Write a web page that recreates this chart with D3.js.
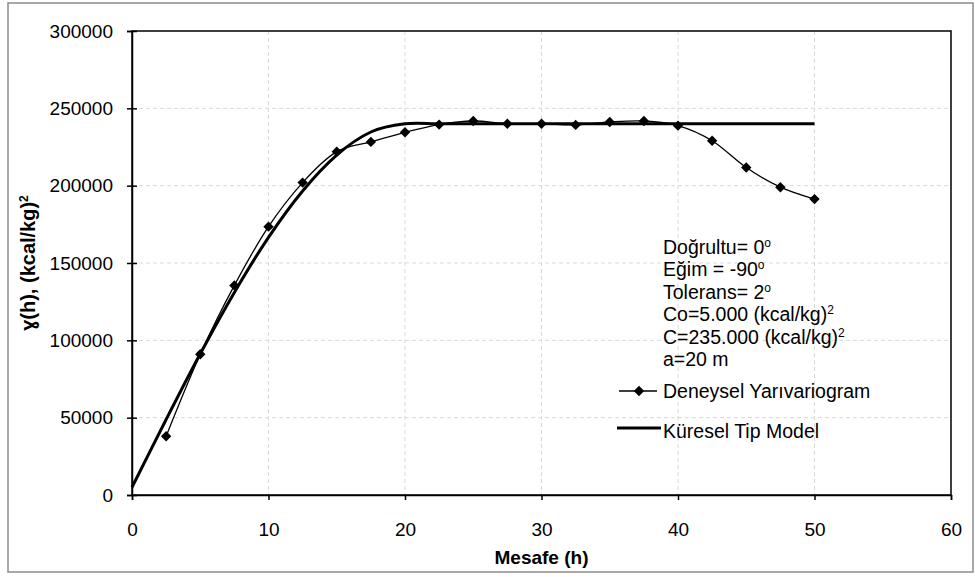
<!DOCTYPE html>
<html>
<head>
<meta charset="utf-8">
<script src="https://cdn.jsdelivr.net/npm/d3@7"></script>
<style>
  body { margin: 0; background: #fff; }
  svg text { font-family: "Liberation Sans", Arial, sans-serif; fill: #000; }
</style>
</head>
<body>
<div id="chart"></div>
<script>
// distances (h) and experimental semivariogram values
const expH = [2.5, 5, 7.5, 10, 12.5, 15, 17.5, 20, 22.5, 25, 27.5, 30, 32.5, 35, 37.5, 40, 42.5, 45, 47.5, 50];
const expGamma = [38000, 91000, 135500, 173500, 202000, 222000, 228300, 234500, 239500, 241800,
  240000, 240000, 239300, 241200, 241800, 238800, 229000, 211700, 199000, 191300];

// spherical model
const modelH = [0, 2.5, 5, 7.5, 10, 12.5, 15, 17.5, 20, 22.5, 25, 27.5, 30, 32.5, 35, 37.5, 40, 42.5, 45, 47.5, 50];
const modelGamma = [5000, 48800, 91300, 131000, 166600, 196600, 219800, 234700, 240000, 240000, 240000,
  240000, 240000, 240000, 240000, 240000, 240000, 240000, 240000, 240000, 240000];

const xTicks = [0, 10, 20, 30, 40, 50, 60];
const yTicks = [0, 50000, 100000, 150000, 200000, 250000, 300000];

const notes = [
  ['Doğrultu= 0', 'o'],
  ['Eğim = -90', 'o'],
  ['Tolerans= 2', 'o'],
  ['Co=5.000 (kcal/kg)', '2'],
  ['C=235.000 (kcal/kg)', '2'],
  ['a=20 m', '']
];
const seriesNames = ['Deneysel Yarıvariogram', 'Küresel Tip Model'];

const width = 975;
const height = 577;
const plot = { left: 132, right: 951, top: 31, bottom: 495 };

const svg = d3.select('#chart').append('svg')
  .attr('width', width)
  .attr('height', height);

svg.append('rect')
  .attr('x', 8).attr('y', 3)
  .attr('width', 965).attr('height', 569)
  .attr('fill', 'none')
  .attr('stroke', '#8c8c8c')
  .attr('stroke-width', 1.5);

const x = d3.scaleLinear().domain([0, 60]).range([plot.left, plot.right]);
const y = d3.scaleLinear().domain([0, 300000]).range([plot.bottom, plot.top]);

// grid
const grid = svg.append('g')
  .attr('stroke', '#d9d9d9')
  .attr('stroke-width', 1)
  .attr('stroke-dasharray', '4,3');
grid.selectAll('line.v')
  .data(xTicks.slice(1, -1))
  .join('line')
  .attr('class', 'v')
  .attr('x1', d => x(d)).attr('x2', d => x(d))
  .attr('y1', plot.top).attr('y2', plot.bottom);
grid.selectAll('line.h')
  .data(yTicks.slice(1, -1))
  .join('line')
  .attr('class', 'h')
  .attr('x1', plot.left).attr('x2', plot.right)
  .attr('y1', d => y(d)).attr('y2', d => y(d));

// plot frame
svg.append('rect')
  .attr('x', plot.left).attr('y', plot.top)
  .attr('width', plot.right - plot.left).attr('height', plot.bottom - plot.top)
  .attr('fill', 'none')
  .attr('stroke', '#000')
  .attr('stroke-width', 1.5);

const xAxis = svg.append('g')
  .attr('transform', `translate(0,${plot.bottom})`)
  .call(d3.axisBottom(x).tickValues(xTicks).tickSize(5).tickPadding(23));
const yAxis = svg.append('g')
  .attr('transform', `translate(${plot.left},0)`)
  .call(d3.axisLeft(y).tickValues(yTicks).tickSize(5).tickPadding(14).tickFormat(d3.format('d')));

[xAxis, yAxis].forEach(a => {
  a.select('.domain').attr('stroke', '#000').attr('stroke-width', 1.5);
  a.selectAll('.tick line').attr('stroke', '#000').attr('stroke-width', 1.5);
  a.selectAll('.tick text')
    .attr('font-size', 19)
    .attr('font-family', '"Liberation Sans", Arial, sans-serif');
});
yAxis.selectAll('.tick line').attr('x2', 5).attr('x1', -5);

// axis titles
svg.append('text')
  .attr('x', (plot.left + plot.right) / 2)
  .attr('y', 564)
  .attr('text-anchor', 'middle')
  .attr('font-size', 19)
  .attr('font-weight', 'bold')
  .text('Mesafe (h)');

const yTitle = svg.append('text')
  .attr('transform', `translate(35,${(plot.top + plot.bottom) / 2}) rotate(-90)`)
  .attr('text-anchor', 'middle')
  .attr('font-size', 20)
  .attr('font-weight', 'bold');
yTitle.append('tspan').text('ɣ(h), (kcal/kg)');
yTitle.append('tspan').attr('font-size', 12).attr('dy', -7).text('2');

// lines
const smooth = d3.line()
  .x(d => x(d[0]))
  .y(d => y(d[1]))
  .curve(d3.curveCatmullRom.alpha(0));

svg.append('path')
  .datum(modelH.map((h, i) => [h, modelGamma[i]]))
  .attr('d', smooth)
  .attr('fill', 'none')
  .attr('stroke', '#000')
  .attr('stroke-width', 3);

const expData = expH.map((h, i) => [h, expGamma[i]]);
svg.append('path')
  .datum(expData)
  .attr('d', smooth)
  .attr('fill', 'none')
  .attr('stroke', '#000')
  .attr('stroke-width', 1.3);

const diamond = d3.symbol(d3.symbolSquare, 54);
svg.append('g')
  .selectAll('path')
  .data(expData)
  .join('path')
  .attr('transform', d => `translate(${x(d[0])},${y(d[1])}) rotate(45)`)
  .attr('d', diamond)
  .attr('fill', '#000');

// annotation
const note = svg.append('g');
notes.forEach((n, i) => {
  const t = note.append('text')
    .attr('x', 663)
    .attr('y', 254 + i * 22.4)
    .attr('font-size', 19.5);
  t.append('tspan').text(n[0]);
  if (n[1]) {
    t.append('tspan').attr('font-size', 12).attr('dy', -7).text(n[1]);
  }
});

// legend
const legend = svg.append('g');
legend.append('line')
  .attr('x1', 619).attr('x2', 657)
  .attr('y1', 391).attr('y2', 391)
  .attr('stroke', '#000').attr('stroke-width', 1.3);
legend.append('path')
  .attr('transform', 'translate(639,391) rotate(45)')
  .attr('d', diamond)
  .attr('fill', '#000');
legend.append('text')
  .attr('x', 663).attr('y', 398)
  .attr('font-size', 19.5)
  .text(seriesNames[0]);
legend.append('line')
  .attr('x1', 617).attr('x2', 661)
  .attr('y1', 428).attr('y2', 428)
  .attr('stroke', '#000').attr('stroke-width', 3);
legend.append('text')
  .attr('x', 663).attr('y', 438)
  .attr('font-size', 19.5)
  .text(seriesNames[1]);
</script>
</body>
</html>
